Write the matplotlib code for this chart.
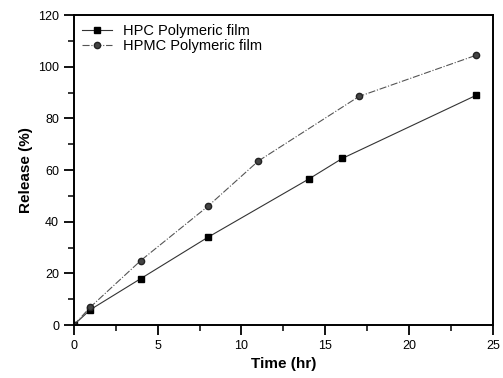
import numpy as np
import matplotlib.pyplot as plt
from matplotlib.ticker import MultipleLocator

plt.rcParams['font.family'] = ['Liberation Sans', 'DejaVu Sans']

# Release data
t_hpc = [0, 1, 4, 8, 14, 16, 24]
r_hpc = [0, 6, 18, 34, 56.5, 64.5, 89]
t_hpmc = [0, 1, 4, 8, 11, 17, 24]
r_hpmc = [0, 7, 25, 46, 63.5, 88.5, 104.5]

fig = plt.figure(figsize=(5.03, 3.78), dpi=100)
ax = fig.add_axes([0.1465, 0.140, 0.834, 0.820])

ax.plot(t_hpc, r_hpc, '-', color='#333333', linewidth=0.8,
        marker='s', markersize=4.5, markerfacecolor='black',
        markeredgecolor='black', label='HPC Polymeric film')
ax.plot(t_hpmc, r_hpmc, '-.', color='#555555', linewidth=0.8,
        marker='o', markersize=4.5, markerfacecolor='#444444',
        markeredgecolor='#222222', label='HPMC Polymeric film')

ax.set_xlim(0, 25)
ax.set_ylim(0, 120)
ax.xaxis.set_major_locator(MultipleLocator(5))
ax.xaxis.set_minor_locator(MultipleLocator(2.5))
ax.yaxis.set_major_locator(MultipleLocator(20))
ax.yaxis.set_minor_locator(MultipleLocator(10))
ax.tick_params(which='major', direction='out', length=7, width=1.3, labelsize=9)
ax.tick_params(which='minor', direction='out', length=4, width=1.1)
for s in ax.spines.values():
    s.set_linewidth(1.4)

ax.set_xlabel('Time (hr)', fontsize=11, fontweight='bold')
ax.set_ylabel('Release (%)', fontsize=11, fontweight='bold')

ax.legend(loc='upper left', frameon=False, fontsize=10.5, handlelength=2.0,
          borderaxespad=0.2, labelspacing=0.1)

fig.savefig('out.png', dpi=100)
